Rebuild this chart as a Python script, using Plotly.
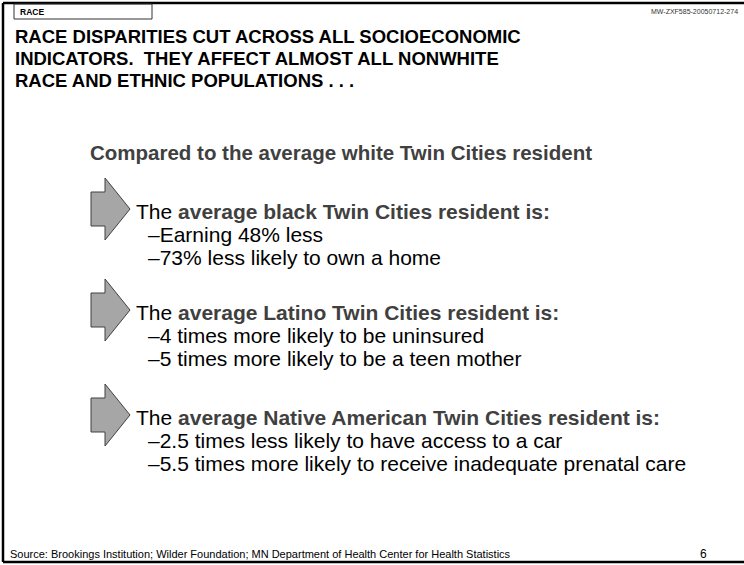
import plotly.graph_objects as go

W, H = 744, 565

tag_label = "RACE"
doc_id = "MW-ZXF585-20050712-274"
headline = [
    "RACE DISPARITIES CUT ACROSS ALL SOCIOECONOMIC",
    "INDICATORS.  THEY AFFECT ALMOST ALL NONWHITE",
    "RACE AND ETHNIC POPULATIONS . . .",
]
intro = "Compared to the average white Twin Cities resident"
groups = ["black", "Latino", "Native American"]
facts = [
    ["Earning 48% less", "73% less likely to own a home"],
    ["4 times more likely to be uninsured", "5 times more likely to be a teen mother"],
    ["2.5 times less likely to have access to a car",
     "5.5 times more likely to receive inadequate prenatal care"],
]
source = "Source: Brookings Institution; Wilder Foundation; MN Department of Health Center for Health Statistics"
page_no = "6"

BODY = "Arial, Liberation Sans, sans-serif"
NARROW = "Arial Narrow, Liberation Sans Narrow, Liberation Sans, sans-serif"

fig = go.Figure()
fig.update_layout(
    width=W, height=H,
    margin=dict(l=0, r=0, t=0, b=0),
    paper_bgcolor="white", plot_bgcolor="white",
    showlegend=False,
    xaxis=dict(range=[0, W], visible=False, fixedrange=True),
    yaxis=dict(range=[H, 0], visible=False, fixedrange=True),
)


def text(x, y, s, size, color="black", font=BODY, anchor="left"):
    fig.add_annotation(x=x, y=y, xref="x", yref="y", text=s, showarrow=False,
                       xanchor=anchor, yanchor="middle",
                       font=dict(family=font, size=size, color=color))


# slide frame
fig.add_shape(type="line", x0=3, x1=W, y0=3, y1=3, line=dict(color="black", width=2.5))
fig.add_shape(type="line", x0=3, x1=3, y0=3, y1=562, line=dict(color="black", width=2.5))
fig.add_shape(type="line", x0=3, x1=W, y0=562, y1=562, line=dict(color="black", width=2.5))
fig.add_shape(type="rect", x0=14, x1=152, y0=4, y1=19, line=dict(color="#333333", width=1))

text(18, 12, "<b>%s</b>" % tag_label, 8.5, font=NARROW)
text(740, 11, doc_id, 7, color="#333333", font=NARROW, anchor="right")

for i, line in enumerate(headline):
    text(13, 36 + 22 * i, "<b>%s</b>" % line, 18.5, font=NARROW)

text(88, 152, "<b>%s</b>" % intro, 20.5, color="#404040")

centers = [209, 310, 415]
for cy, grp, items in zip(centers, groups, facts):
    path = ("M 91 %f L 105 %f L 105 %f L 130 %f L 105 %f L 105 %f L 91 %f Z"
            % (cy - 17, cy - 17, cy - 31, cy, cy + 31, cy + 17, cy + 17))
    fig.add_shape(type="path", path=path, xref="x", yref="y",
                  fillcolor="#a6a6a6", line=dict(color="#404040", width=1))
    text(134, cy + 2,
         "The <b><span style='color:#404040'>average %s Twin Cities resident is:</span></b>" % grp, 21)
    for j, item in enumerate(items):
        text(146, cy + 25 + 23.5 * j, "\u2013" + item, 21)

text(8, 554, source, 11, font=NARROW)
text(709, 554, page_no, 12, font=BODY, anchor="right")

fig.write_html("out.html", config={"displayModeBar": False},
               post_script="document.body.style.margin='0';document.body.style.overflow='hidden';")
